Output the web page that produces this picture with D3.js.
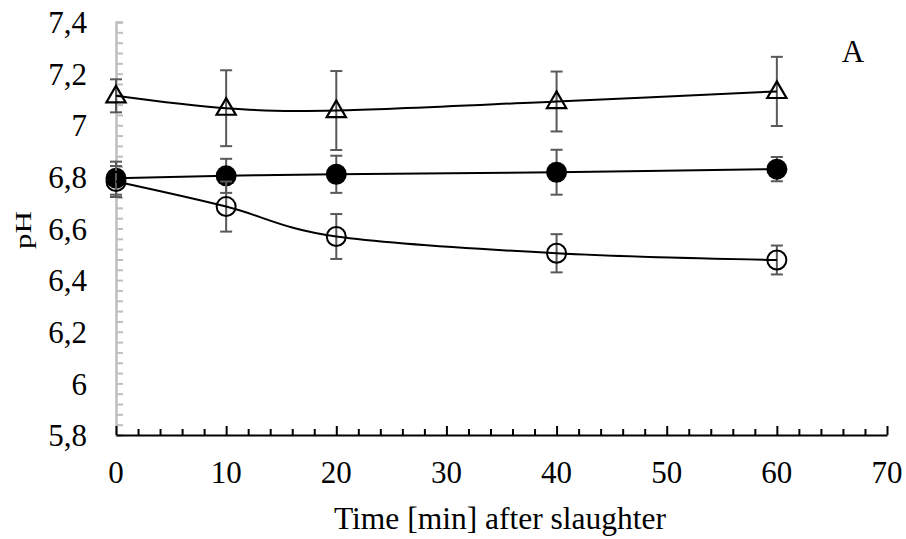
<!DOCTYPE html>
<html>
<head>
<meta charset="utf-8">
<script src="https://cdn.jsdelivr.net/npm/d3@7.9.0/dist/d3.min.js"></script>
<style>
  body { margin: 0; background: #fff; }
  text { font-family: "Liberation Serif", "Times New Roman", serif; fill: #000; }
</style>
</head>
<body>
<div id="chart"></div>
<script>
// time points (min after slaughter)
const times = [0, 10, 20, 40, 60];

// series (pH mean and error)
const filledMean = [6.795, 6.804, 6.81, 6.818, 6.83];
const filledErr  = [0.064, 0.066, 0.072, 0.087, 0.047];
const openMean   = [6.782, 6.685, 6.569, 6.504, 6.478];
const openErr    = [0.06, 0.097, 0.087, 0.074, 0.056];
const triMean    = [7.114, 7.066, 7.057, 7.092, 7.131];
const triErr     = [0.064, 0.147, 0.153, 0.116, 0.134];

const xTicks = [0, 10, 20, 30, 40, 50, 60, 70];
const yTicks = [5.8, 6, 6.2, 6.4, 6.6, 6.8, 7, 7.2, 7.4];

const width = 906, height = 539;
const margin = { left: 116, right: 19, top: 22, bottom: 104 };

const svg = d3.select("#chart").append("svg")
  .attr("width", width)
  .attr("height", height);

const x = d3.scaleLinear().domain([0, 70]).range([margin.left, width - margin.right]);
const y = d3.scaleLinear().domain([5.8, 7.4]).range([height - margin.bottom, margin.top]);

const fmt = v => d3.format("~g")(v).replace(".", ",");
const fontSize = 31;

// y axis (gray, minor ticks inside)
const yAxis = svg.append("g")
  .attr("transform", `translate(${x(0)},0)`)
  .call(d3.axisRight(y)
    .tickValues(d3.range(5.8, 7.4001, 0.04))
    .tickSize(7)
    .tickFormat(""));
yAxis.select(".domain").attr("stroke", "#bfbfbf").attr("stroke-width", 2.5);
yAxis.selectAll(".tick line").attr("stroke", "#bfbfbf").attr("stroke-width", 2);

svg.append("g")
  .selectAll("text")
  .data(yTicks)
  .join("text")
    .attr("x", 87)
    .attr("y", d => y(d))
    .attr("dy", "0.36em")
    .attr("text-anchor", "end")
    .attr("font-size", fontSize)
    .text(fmt);

// x axis (black, ticks inside)
const xAxis = svg.append("g")
  .attr("transform", `translate(0,${y(5.8)})`)
  .call(d3.axisTop(x).tickValues(d3.range(0, 70.001, 2)).tickSize(6).tickSizeOuter(0).tickFormat(""));
xAxis.select(".domain").attr("stroke", "#000").attr("stroke-width", 2);
xAxis.selectAll(".tick line")
  .attr("stroke", "#000").attr("stroke-width", 2)
  .attr("y2", d => d % 10 === 0 ? -9 : -6);

svg.append("g")
  .selectAll("text")
  .data(xTicks)
  .join("text")
    .attr("x", d => x(d))
    .attr("y", 483)
    .attr("text-anchor", "middle")
    .attr("font-size", fontSize)
    .text(d => d);

// axis titles
svg.append("text")
  .attr("x", 500)
  .attr("y", 529)
  .attr("text-anchor", "middle")
  .attr("font-size", 31.5)
  .text("Time [min] after slaughter");

svg.append("text")
  .attr("transform", "translate(31,230) rotate(-90) scale(1,0.75)")
  .attr("text-anchor", "middle")
  .attr("font-size", 31)
  .text("pH");

svg.append("text")
  .attr("x", 853)
  .attr("y", 62)
  .attr("text-anchor", "middle")
  .attr("font-size", fontSize)
  .text("A");

// series
const series = [
  { mean: triMean, err: triErr, marker: "triangle" },
  { mean: filledMean, err: filledErr, marker: "filled" },
  { mean: openMean, err: openErr, marker: "open" }
];

const line = d3.line()
  .x(d => x(d.t))
  .y(d => y(d.v))
  .curve(d3.curveCardinal.tension(0));

const tri = d3.symbol().type(d3.symbolTriangle).size(160);

series.forEach(s => {
  const pts = times.map((t, i) => ({ t, v: s.mean[i], e: s.err[i] }));
  const g = svg.append("g");

  // error bars
  const eb = g.append("g").attr("stroke", "#595959").attr("stroke-width", 2);
  eb.selectAll("line.v").data(pts).join("line")
    .attr("class", "v")
    .attr("x1", d => x(d.t)).attr("x2", d => x(d.t))
    .attr("y1", d => y(d.v - d.e)).attr("y2", d => y(d.v + d.e));
  eb.selectAll("line.top").data(pts).join("line")
    .attr("class", "top")
    .attr("x1", d => x(d.t) - 6).attr("x2", d => x(d.t) + 6)
    .attr("y1", d => y(d.v + d.e)).attr("y2", d => y(d.v + d.e));
  eb.selectAll("line.bot").data(pts).join("line")
    .attr("class", "bot")
    .attr("x1", d => x(d.t) - 6).attr("x2", d => x(d.t) + 6)
    .attr("y1", d => y(d.v - d.e)).attr("y2", d => y(d.v - d.e));

  g.append("path")
    .datum(pts)
    .attr("fill", "none")
    .attr("stroke", "#000")
    .attr("stroke-width", 2)
    .attr("d", line);

  if (s.marker === "triangle") {
    g.selectAll("path.m").data(pts).join("path")
      .attr("class", "m")
      .attr("transform", d => `translate(${x(d.t)},${y(d.v) + 1})`)
      .attr("d", tri)
      .attr("fill", "none")
      .attr("stroke", "#000")
      .attr("stroke-width", 2.2);
  } else {
    g.selectAll("circle").data(pts).join("circle")
      .attr("cx", d => x(d.t))
      .attr("cy", d => y(d.v))
      .attr("r", s.marker === "filled" ? 10.5 : 9.5)
      .attr("fill", s.marker === "filled" ? "#000" : "none")
      .attr("stroke", "#000")
      .attr("stroke-width", s.marker === "filled" ? 0 : 2);
  }
});
</script>
</body>
</html>
